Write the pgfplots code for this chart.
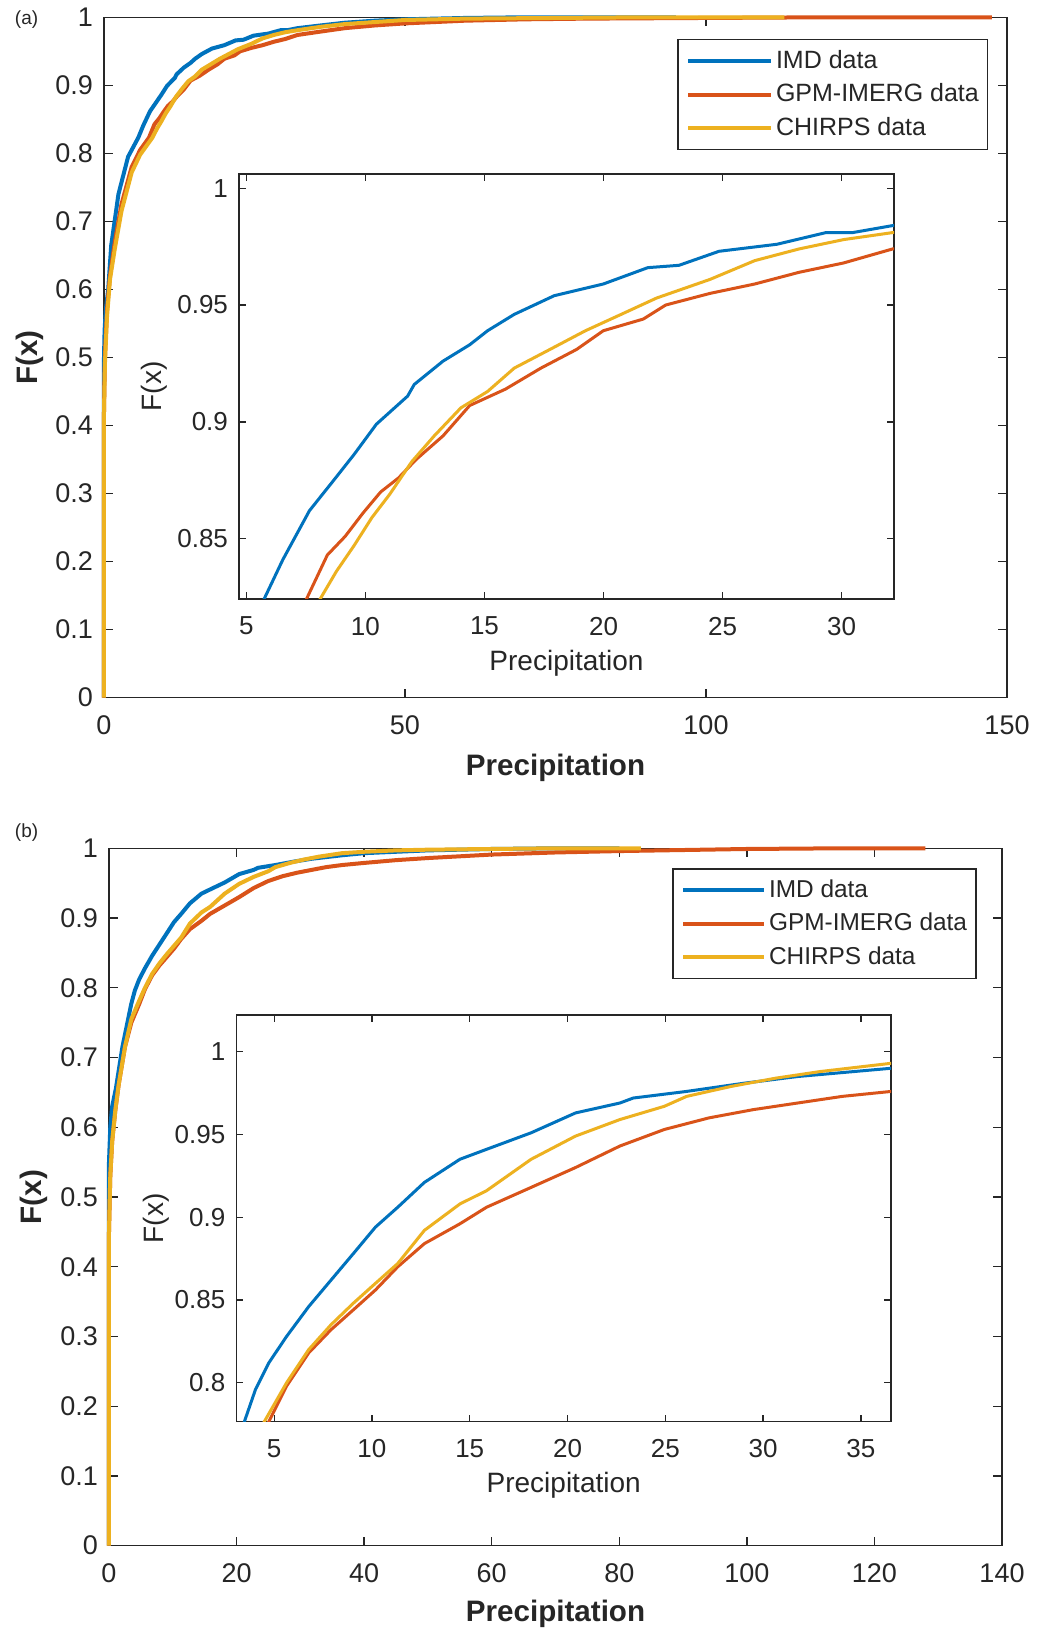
\documentclass[border=0pt]{standalone}
\usepackage{pgfplots}
\pgfplotsset{compat=1.18}
\usepackage{pgfplotstable}
\usepackage{fontspec}
\setmainfont{Liberation Sans}

\definecolor{mblue}{rgb}{0,0.447,0.741}
\definecolor{morange}{rgb}{0.85,0.325,0.098}
\definecolor{myellow}{rgb}{0.929,0.694,0.125}
\definecolor{axgray}{rgb}{0.15,0.15,0.15}

\pgfplotstableread{
x y
0 0
0 0.50
0.1 0.54
0.3 0.57
0.7 0.60
1.2 0.665
2.4 0.74
4.0 0.795
5.69 0.823
6.53 0.841
7.65 0.862
8.59 0.874
9.52 0.886
10.46 0.899
11.77 0.911
12.05 0.916
13.26 0.926
14.38 0.933
15.13 0.939
16.25 0.946
17.93 0.954
19.99 0.959
21.86 0.966
23.17 0.967
24.85 0.973
27.28 0.976
29.34 0.981
30.46 0.981
32.14 0.984
36 0.988
40 0.992
45 0.995
50 0.997
60 0.999
70 1.0
95 1.0
}\imdA
\pgfplotstableread{
x y
0 0
0 0.42
0.15 0.50
0.5 0.57
1.0 0.62
1.8 0.67
2.9 0.725
4.6 0.78
6.0 0.805
7.47 0.823
8.40 0.843
9.15 0.851
9.90 0.861
10.64 0.870
11.39 0.876
12.14 0.884
13.26 0.894
14.38 0.907
15.88 0.914
17.37 0.923
18.87 0.931
19.99 0.939
21.67 0.944
22.61 0.950
24.48 0.955
26.35 0.959
28.21 0.964
30.08 0.968
32.14 0.974
36 0.979
40 0.984
45 0.988
50 0.991
60 0.995
70 0.997
80 0.998
100 0.999
120 1.0
147.5 1.0
}\gpmA
\pgfplotstableread{
x y
0 0
0 0.42
0.15 0.49
0.5 0.56
1.0 0.615
1.8 0.66
2.9 0.715
4.6 0.772
6.0 0.798
8.03 0.823
8.78 0.836
9.52 0.847
10.27 0.859
11.02 0.869
11.95 0.883
12.89 0.894
14.01 0.906
15.13 0.913
16.25 0.923
17.75 0.931
19.24 0.939
20.74 0.946
22.23 0.953
24.48 0.961
26.35 0.969
28.21 0.974
30.08 0.978
32.14 0.981
36 0.986
40 0.990
45 0.993
50 0.996
60 0.998
75 0.999
90 1.0
113 1.0
}\chirpsA

% panel (b)
\pgfplotstableread{
x y
0 0
0 0.55
0.2 0.60
0.5 0.63
1.07 0.655
2.1 0.715
3.48 0.7765
4.05 0.796
4.73 0.812
5.64 0.828
6.77 0.846
7.91 0.862
9.05 0.878
10.18 0.894
11.32 0.906
12.68 0.921
14.5 0.935
15.86 0.941
18.14 0.951
20.41 0.963
22.68 0.969
23.36 0.972
26.09 0.976
29.05 0.981
31.77 0.985
36.55 0.990
40 0.993
45 0.995
50 0.997
60 0.999
70 1.0
80 1.0
}\imdB
\pgfplotstableread{
x y
0 0
0 0.45
0.2 0.53
0.5 0.58
1.0 0.625
1.5 0.66
2.5 0.715
3.5 0.75
4.73 0.7765
5.64 0.798
6.77 0.818
7.91 0.832
9.05 0.844
10.18 0.856
11.32 0.870
12.68 0.884
14.5 0.896
15.86 0.906
18.14 0.918
20.41 0.930
22.68 0.943
24.95 0.953
27.23 0.960
29.5 0.965
31.77 0.969
34.05 0.973
36.55 0.976
40 0.979
45 0.983
50 0.986
60 0.991
70 0.994
80 0.996
100 0.999
115 1.0
128 1.0
}\gpmB
\pgfplotstableread{
x y
0 0
0 0.45
0.2 0.53
0.5 0.58
1.0 0.625
1.5 0.66
2.5 0.715
3.5 0.755
4.5 0.7765
5.64 0.800
6.77 0.820
7.91 0.835
9.05 0.848
10.18 0.860
11.32 0.872
12.68 0.892
14.5 0.908
15.86 0.916
18.14 0.935
20.41 0.949
22.68 0.959
24.95 0.967
26.09 0.973
28.36 0.979
30.64 0.984
32.91 0.988
36.55 0.993
40 0.995
45 0.997
50 0.998
60 0.999
70 1.0
83.4 1.0
}\chirpsB

\pgfplotsset{
  cdfbase/.style={
    scale only axis,
    axis line style={axgray, line width=0.65pt},
    every tick/.style={axgray, line width=0.65pt},
    tick align=inside,
    axis background/.style={fill=white},
    /pgf/number format/assume math mode=true,
    tick label style={text=axgray},
    xticklabel style={yshift=-5.5pt},
    yticklabel style={xshift=-2pt},
    label style={text=axgray},
  },
  mainax/.style={
    cdfbase, clip=false,
    tick label style={font=\fontsize{13.5}{16}\selectfont},
    xlabel style={font=\fontsize{14.8}{17}\selectfont\bfseries, anchor=center},
    ylabel style={font=\fontsize{14.8}{17}\selectfont\bfseries, anchor=center},
    major tick length=4.5pt,
    ymin=0, ymax=1, ytick={0,0.1,...,1},
    every axis plot/.append style={line width=2pt},
    legend cell align=left,
    legend style={anchor=north west, draw=axgray, line width=0.6pt, fill=white,
      text=axgray, inner xsep=4pt, inner ysep=4pt, row sep=3.2pt,
      nodes={inner xsep=0.5pt, inner ysep=0pt, text height=10.2pt, text depth=3.3pt},
      /tikz/every odd column/.append style={column sep=1pt}},
  },
  insetax/.style={
    cdfbase, clip=true,
    tick label style={font=\fontsize{13}{15}\selectfont},
    xlabel style={font=\fontsize{14}{17}\selectfont, anchor=center},
    ylabel style={font=\fontsize{14}{17}\selectfont, anchor=center},
    major tick length=3.5pt,
    every axis plot/.append style={line width=1.5pt},
  },
}

\begin{document}
\begin{tikzpicture}
\path[use as bounding box] (0pt,0pt) rectangle (519.5pt,815.5pt);

% ---------- (a) ----------
\node[text=axgray, font=\fontsize{9.5}{11}\selectfont] at (13.3pt,805.5pt) {(a)};
\begin{axis}[mainax,
  at={(52pt,466.65pt)}, anchor=south west,
  width=451.5pt, height=340.2pt,
  xmin=0, xmax=150, xtick={0,50,100,150},
  xlabel={Precipitation}, ylabel={F(x)},
  xlabel style={at={(axis description cs:0.5,-0.1029)}},
  ylabel style={at={(axis description cs:-0.082,0.5)}},
  legend image code/.code={\draw[#1, line width=2pt] (0pt,0pt) -- (41.5pt,0pt);},
  legend style={at={(0.635,0.9677)}, font=\fontsize{12.5}{15}\selectfont}]
\addplot[mblue] table {\imdA};
\addplot[morange] table {\gpmA};
\addplot[myellow] table {\chirpsA};
\legend{IMD data, GPM-IMERG data, CHIRPS data}
\end{axis}
\begin{axis}[insetax,
  at={(119.5pt,516pt)}, anchor=south west,
  width=327.5pt, height=212.5pt,
  xmin=4.69, xmax=32.2, ymin=0.8242, ymax=1.0061,
  xtick={5,10,...,30}, ytick={0.85,0.9,0.95,1},
  xlabel={Precipitation}, ylabel={F(x)},
  xlabel style={at={(axis description cs:0.5,-0.1518)}},
  ylabel style={at={(axis description cs:-0.130,0.5)}}]
\addplot[mblue] table {\imdA};
\addplot[morange] table {\gpmA};
\addplot[myellow] table {\chirpsA};
\end{axis}

% ---------- (b) ----------
\node[text=axgray, font=\fontsize{9.5}{11}\selectfont] at (13.3pt,399pt) {(b)};
\begin{axis}[mainax,
  at={(54.5pt,42.65pt)}, anchor=south west,
  width=446.5pt, height=348.7pt,
  xmin=0, xmax=140, xtick={0,20,...,140},
  xlabel={Precipitation}, ylabel={F(x)},
  xlabel style={at={(axis description cs:0.5,-0.0975)}},
  ylabel style={at={(axis description cs:-0.0845,0.5)}},
  legend image code/.code={\draw[#1, line width=2pt] (0pt,0pt) -- (40.5pt,0pt);},
  legend style={at={(0.631,0.9713)}, font=\fontsize{12.2}{15}\selectfont}]
\addplot[mblue] table {\imdB};
\addplot[morange] table {\gpmB};
\addplot[myellow] table {\chirpsB};
\legend{IMD data, GPM-IMERG data, CHIRPS data}
\end{axis}
\begin{axis}[insetax,
  at={(118.2pt,104.65pt)}, anchor=south west,
  width=327.3pt, height=203.35pt,
  xmin=3.07, xmax=36.54, ymin=0.7764, ymax=1.0222,
  xtick={5,10,...,35}, ytick={0.8,0.85,0.9,0.95,1},
  xlabel={Precipitation}, ylabel={F(x)},
  xlabel style={at={(axis description cs:0.5,-0.1556)}},
  ylabel style={at={(axis description cs:-0.1222,0.5)}}]
\addplot[mblue] table {\imdB};
\addplot[morange] table {\gpmB};
\addplot[myellow] table {\chirpsB};
\end{axis}
\end{tikzpicture}
\end{document}
